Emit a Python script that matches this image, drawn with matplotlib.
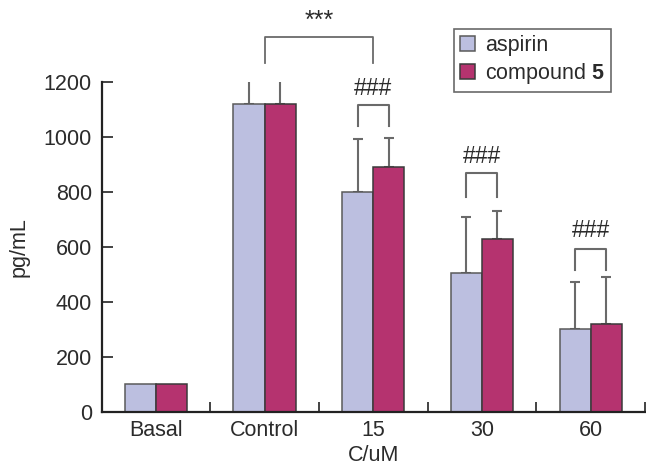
import numpy as np
import matplotlib
matplotlib.use("Agg")
import matplotlib.pyplot as plt

plt.rcParams['font.family'] = ['Liberation Sans', 'DejaVu Sans']
plt.rcParams['mathtext.fontset'] = 'custom'
plt.rcParams['mathtext.bf'] = 'Liberation Sans:bold'
plt.rcParams['mathtext.rm'] = 'Liberation Sans'

# data
groups = ['Basal', 'Control', '15', '30', '60']
aspirin = [100, 1120, 800, 503, 300]
compound5 = [100, 1120, 890, 628, 318]
aspirin_err = [0, 113, 190, 206, 173]
compound5_err = [0, 113, 106, 101, 173]

# significance marks: (x1, x2, top, leg bottom, text y, label)
sig_marks = [
    (1.5, 2.5, 1364, 1269, 1420, '***'),
]
hash_marks = [
    (2, 1114, 1039, 1176),
    (3, 867, 782, 927),
    (4, 590, 515, 658),
]

c_asp = '#bcbfe0'
c_cmp = '#b5336f'
gray = '#6a6a6a'
txt = '#2b2b2b'
fs = 15.5

fig = plt.figure(figsize=(6.46, 4.68), dpi=100)
ax = fig.add_axes([101.5/646, 1-411.7/468, (645-101.5)/646, (411.7-81.7)/468])

x = np.arange(len(groups)) + 0.5
w = 0.286
ax.bar(x - w/2, aspirin, w, color=c_asp, edgecolor='#5a5a5a', linewidth=1.1,
       label='aspirin', zorder=2)
ax.bar(x + w/2, compound5, w, color=c_cmp, edgecolor='#3a3a3a', linewidth=1.1,
       label='compound $\\mathbf{5}$', zorder=2)

for xs, vals, errs in [(x - w/2, aspirin, aspirin_err), (x + w/2, compound5, compound5_err)]:
    for xi, v, e in zip(xs, vals, errs):
        if e > 0:
            ax.errorbar(xi, v, yerr=[[0], [e]], fmt='none', ecolor=gray,
                        elinewidth=1.5, capsize=3.5, capthick=1.5, zorder=1)

for x1, x2, top, bot, ty, lab in sig_marks:
    ax.plot([x1, x1, x2, x2], [bot, top, top, bot], color=gray, lw=1.3, clip_on=False)
    ax.text((x1 + x2)/2, ty, lab, ha='center', va='center', fontsize=18,
            color=txt, clip_on=False)

for gi, top, bot, ty in hash_marks:
    x1, x2 = x[gi] - w/2, x[gi] + w/2
    ax.plot([x1, x1, x2, x2], [bot, top, top, bot], color=gray, lw=1.5, clip_on=False)
    ax.text(x[gi], ty, '###', ha='center', va='center', fontsize=16.5,
            color=txt, clip_on=False)

ax.set_xlim(0, 5)
ax.set_ylim(0, 1200)
ax.set_yticks(range(0, 1201, 200))
ax.set_xticks(x)
ax.set_xticklabels(groups)
ax.set_xticks(np.arange(1, 6), minor=True)
ax.tick_params(axis='x', which='major', length=0, pad=6, labelsize=fs, labelcolor=txt)
ax.tick_params(axis='x', which='minor', direction='in', length=7, width=1.2, color='#222222')
ax.tick_params(axis='y', direction='in', length=8, width=1.2, pad=7,
               labelsize=fs, labelcolor=txt, color='#222222')

for s in ['top', 'right']:
    ax.spines[s].set_visible(False)
for s in ['left', 'bottom']:
    ax.spines[s].set_linewidth(1.6)
    ax.spines[s].set_color('#222222')

ax.set_ylabel('pg/mL', fontsize=fs, color=txt, labelpad=10)
ax.set_xlabel('C/uM', fontsize=fs, color=txt, labelpad=3)

leg = fig.legend(loc='upper right', bbox_to_anchor=(611/646, 1-29/468),
                 fontsize=fs, frameon=True, fancybox=False, borderaxespad=0,
                 handlelength=0.7, handleheight=0.7, handletextpad=0.45,
                 labelspacing=0.2, borderpad=0.3)
leg.get_frame().set_edgecolor('#444444')
leg.get_frame().set_linewidth(1.2)
for t in leg.get_texts():
    t.set_color(txt)

fig.savefig('out.png', dpi=100)
